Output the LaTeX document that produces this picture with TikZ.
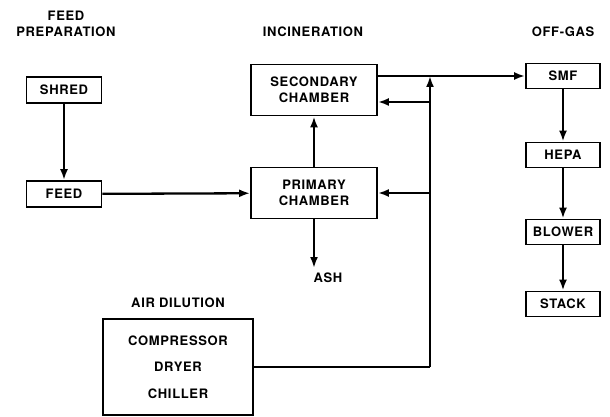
\documentclass[tikz,border=0pt]{standalone}
\usepackage{fontspec}
\setmainfont[LetterSpace=5]{TeX Gyre Heros}
\usetikzlibrary{arrows.meta}
\begin{document}
\begin{tikzpicture}[x=1pt,y=-1pt,
  lbl/.style={font=\fontsize{13}{16}\selectfont\bfseries, align=center, inner sep=0pt},
  box/.style={lbl, draw, line width=1.8pt, minimum width=75pt, minimum height=26pt},
  conn/.style={line width=2.3pt},
  arr/.style={conn, -{Latex[length=11pt,width=8pt]}}]
\useasboundingbox[fill=white] (0,0) rectangle (610,417);
% titles
\node[lbl] (tfeed) at (66,24) {FEED\\PREPARATION};
\node[lbl] (tinc) at (313,32) {INCINERATION};
\node[lbl] (toff) at (563,32) {OFF-GAS};
\node[lbl] (tair) at (178,303) {AIR DILUTION};
% boxes
\node[box] (shred) at (64,90) {SHRED};
\node[box] (feed) at (64,194) {FEED};
\node[box, minimum width=126pt, minimum height=51pt] (sec) at (314,90) {SECONDARY\\CHAMBER};
\node[box, minimum width=126pt, minimum height=51pt] (pri) at (314,193) {PRIMARY\\CHAMBER};
\node[box, minimum width=74pt, minimum height=25pt] (smf) at (563,76) {SMF};
\node[box, minimum width=74pt, minimum height=25pt] (hepa) at (563,155) {HEPA};
\node[box, minimum width=74pt, minimum height=25pt] (blower) at (563,232) {BLOWER};
\node[box, minimum width=74pt, minimum height=25pt] (stack) at (563,304) {STACK};
\node[box, minimum width=150pt, minimum height=96pt, font=\fontsize{13}{26.5}\selectfont\bfseries] (air) at (178,367) {COMPRESSOR\\DRYER\\CHILLER};
\node[lbl] (ash) at (328,278) {ASH};
% junction coordinates
\coordinate (ashtip) at (314,268);
\coordinate (jbot) at (430,367);
\coordinate (jtop) at (430,76);
\coordinate (jsec) at (430,102);
\coordinate (jpri) at (430,193);
% connectors
\draw[arr] (shred) -- (feed);
\draw[arr] (feed) -- (pri);
\draw[arr] (pri) -- (sec);
\draw[arr] (pri) -- (ashtip);
\draw[arr] (sec.east |- smf.west) -- (smf.west);
\draw[arr] (smf) -- (hepa);
\draw[arr] (hepa) -- (blower);
\draw[arr] (blower) -- (stack);
\draw[conn] (air.east) -- (jbot);
\draw[arr] (jbot) -- (jtop);
\draw[arr] (jsec) -- (sec.east |- jsec);
\draw[arr] (jpri) -- (pri.east);
\end{tikzpicture}
\end{document}
